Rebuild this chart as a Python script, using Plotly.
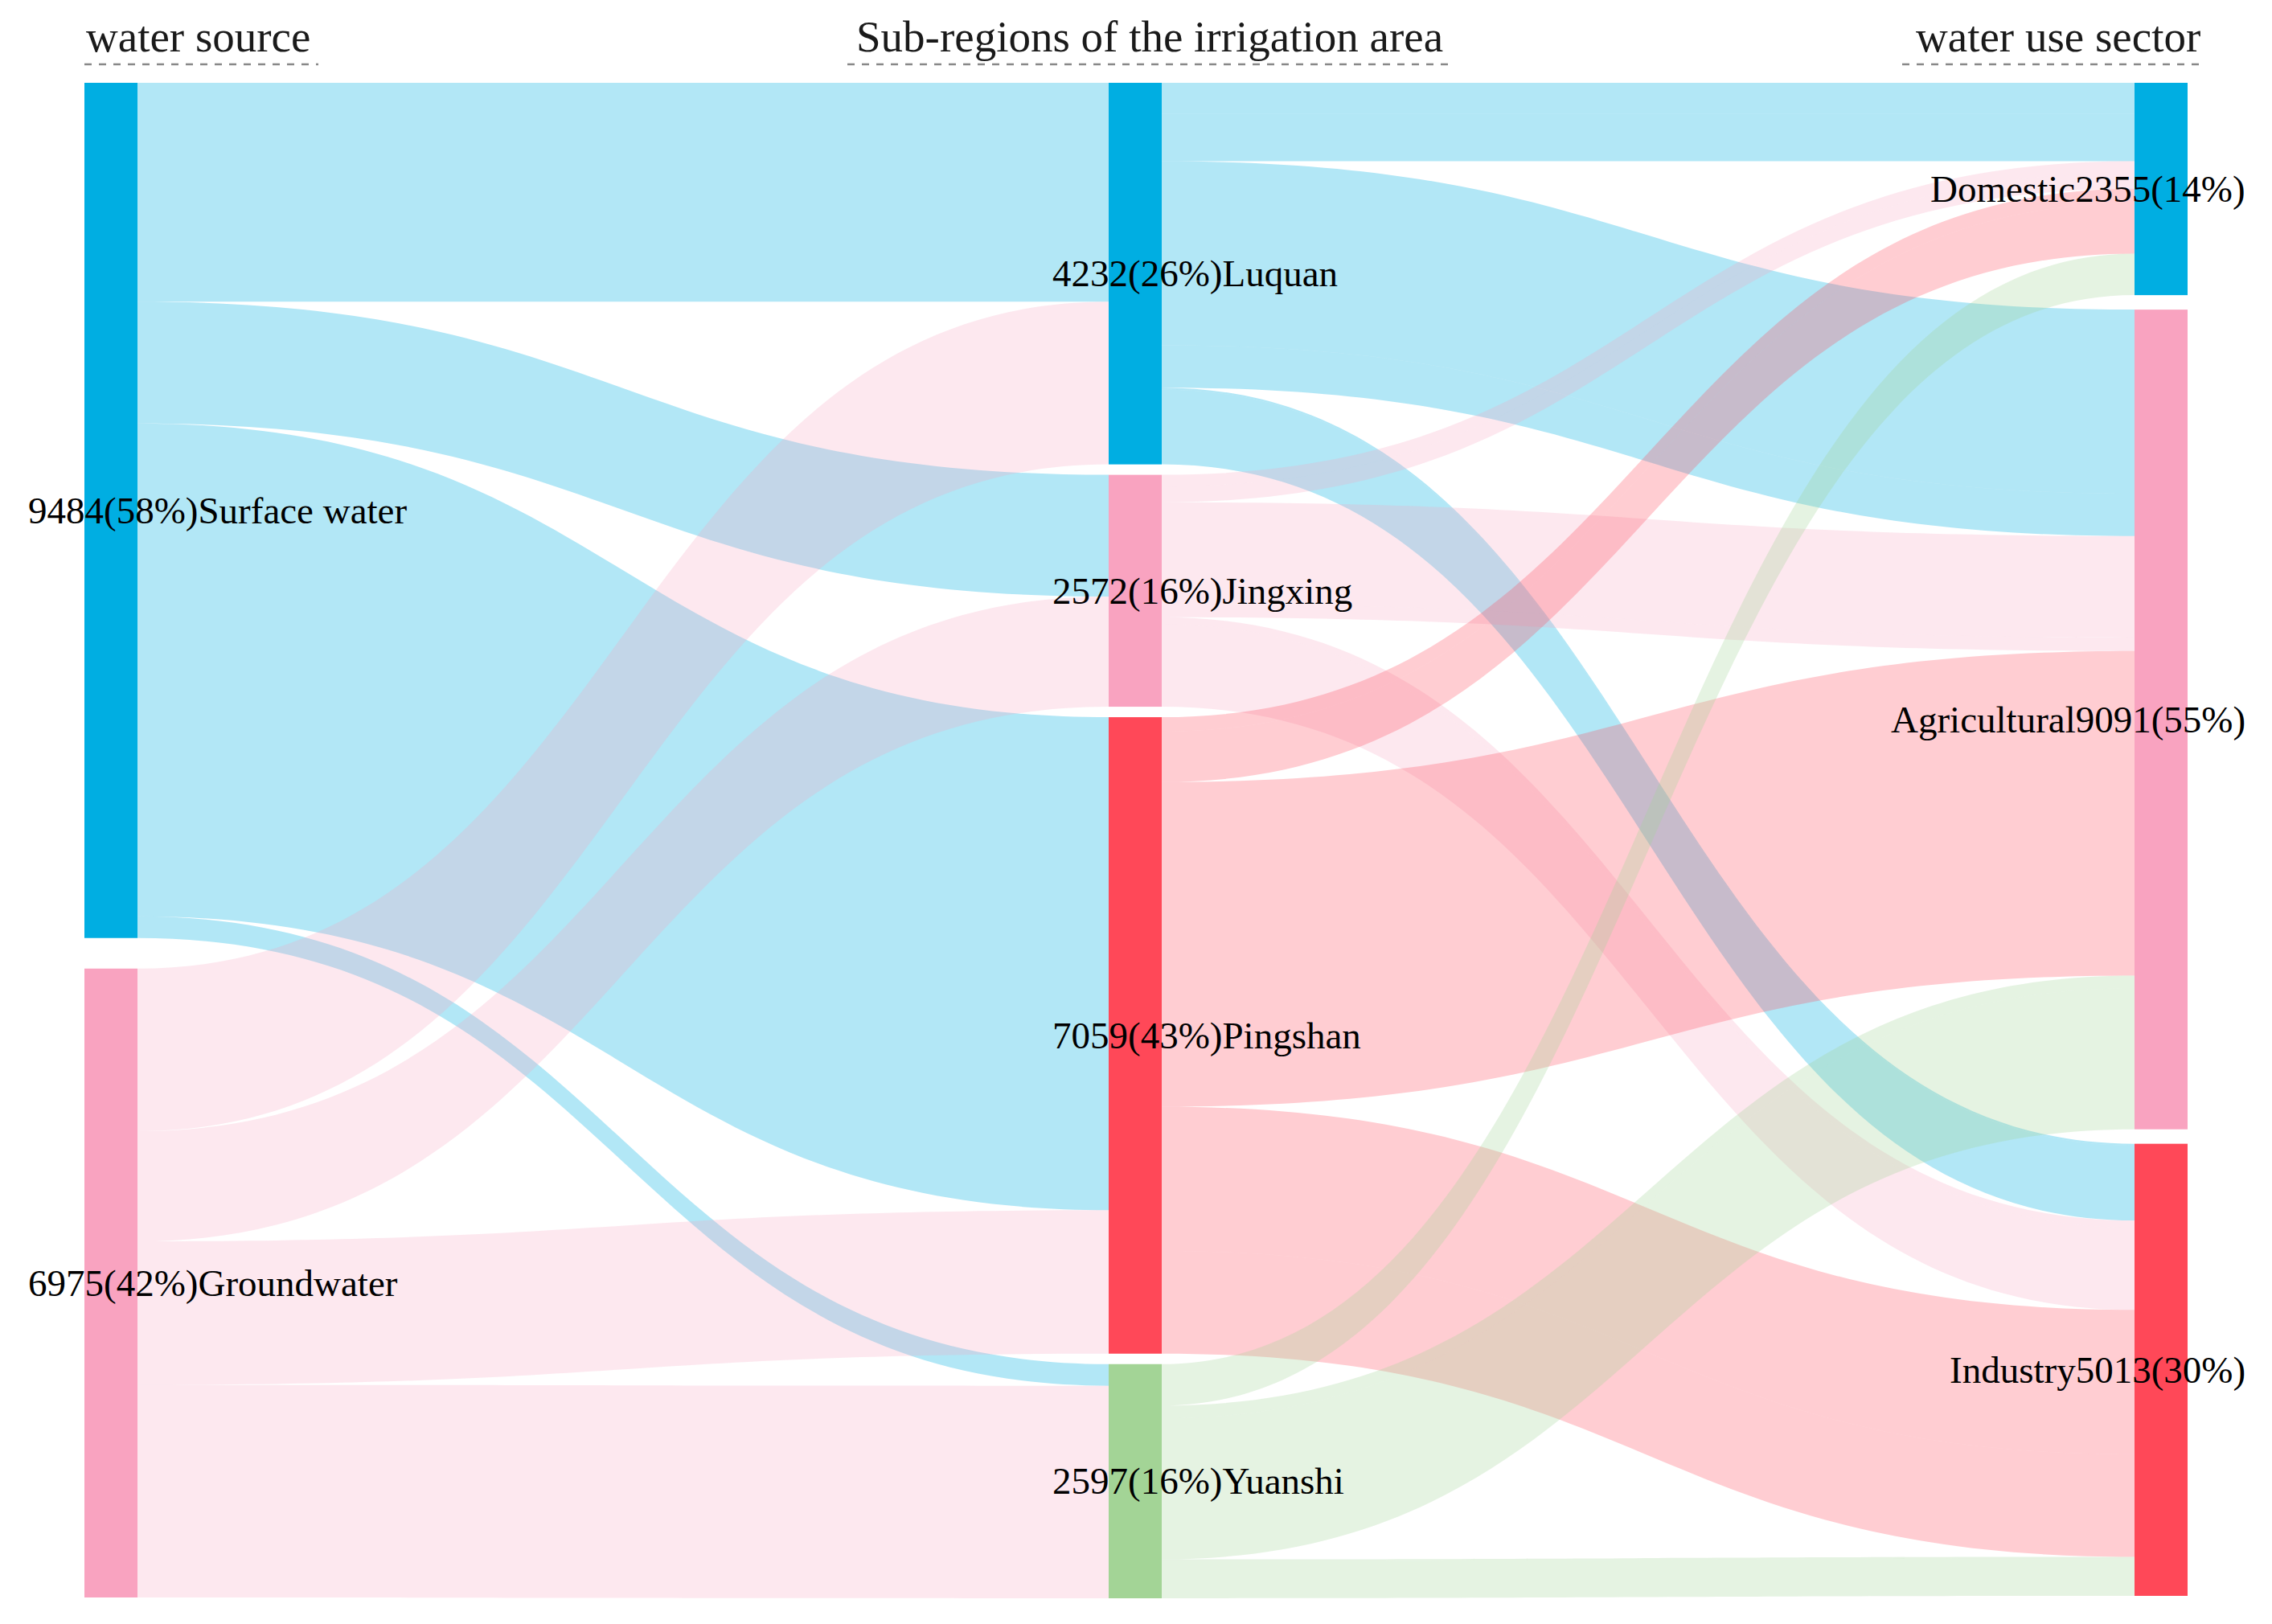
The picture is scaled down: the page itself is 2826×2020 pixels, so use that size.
import plotly.graph_objects as go

W, H = 2826, 2020

# ---------------- data ----------------
source_names = ["Surface water", "Groundwater"]
source_totals = [9484, 6975]
source_pct = [58, 42]

region_names = ["Luquan", "Jingxing", "Pingshan", "Yuanshi"]
region_totals = [4232, 2572, 7059, 2597]
region_pct = [26, 16, 43, 16]

sector_names = ["Domestic", "Agricultural", "Industry"]
sector_totals = [2355, 9091, 5013]
sector_pct = [14, 55, 30]

# water source -> sub-region
surface_to_region = [2428, 1350, 5467, 240]
ground_to_region = [1804, 1222, 1592, 2357]

# sub-region -> water use sector (bands)
rs_from = ["Luquan", "Luquan", "Luquan", "Luquan", "Luquan", "Luquan",
           "Jingxing", "Jingxing", "Jingxing", "Jingxing", "Jingxing", "Jingxing",
           "Pingshan", "Pingshan", "Pingshan", "Pingshan", "Pingshan",
           "Yuanshi", "Yuanshi", "Yuanshi", "Yuanshi", "Yuanshi"]
rs_to = ["Domestic", "Agricultural", "Domestic", "Industry", "Agricultural", "Industry",
         "Agricultural", "Domestic", "Domestic", "Agricultural", "Industry", "Industry",
         "Domestic", "Agricultural", "Industry", "Domestic", "Industry",
         "Domestic", "Agricultural", "Industry", "Agricultural", "Industry"]
rs_val = [340, 2041, 530, 20, 470, 831,
          1125, 130, 175, 150, 80, 912,
          160, 3600, 1600, 560, 1139,
          460, 140, 20, 1565, 412]

column_titles = ["water source", "Sub-regions of the irrigation area", "water use sector"]

# ---------------- styles ----------------
BLUE = (0, 174, 226)
PINK = (249, 163, 192)
RED = (255, 72, 88)
GREEN = (163, 212, 150)
source_colors = [BLUE, PINK]
region_colors = [BLUE, PINK, RED, GREEN]
sector_colors = [BLUE, PINK, RED]
alpha_of = {BLUE: 0.30, PINK: 0.25, RED: 0.27, GREEN: 0.28}

FONT = "Liberation Serif"

top_px, bottom_px = 103, 1988
Hd = bottom_px - top_px
pad = 13
col_gap = [38, 13, 18]
col_x_px = [138, 1412, 2688]
thick = 66

# ---------------- build graph ----------------
names = source_names + region_names + sector_names
idx = {n: i for i, n in enumerate(names)}
colors = source_colors + region_colors + sector_colors

src, tgt, val, lcol = [], [], [], []
for si, row in enumerate([surface_to_region, ground_to_region]):
    for ri, v in enumerate(row):
        src.append(idx[source_names[si]])
        tgt.append(idx[region_names[ri]])
        val.append(v)
for f, t, v in zip(rs_from, rs_to, rs_val):
    src.append(idx[f])
    tgt.append(idx[t])
    val.append(v)
for s in src:
    c = colors[s]
    lcol.append(f"rgba({c[0]},{c[1]},{c[2]},{alpha_of[c]})")

# node values as the sankey computes them
ins = [0] * len(names)
outs = [0] * len(names)
for s, t, v in zip(src, tgt, val):
    outs[s] += v
    ins[t] += v
nval = [max(a, b) for a, b in zip(ins, outs)]

columns = [list(range(0, 2)), list(range(2, 6)), list(range(6, 9))]
ky = min((Hd - (len(c) - 1) * pad) / sum(nval[i] for i in c) for c in columns)

node_x = [0] * len(names)
node_y = [0] * len(names)
center_px = [0] * len(names)
for ci, col in enumerate(columns):
    acc = 0.0
    for k, i in enumerate(col):
        h = nval[i] * ky
        c = acc + h / 2
        center_px[i] = c
        node_x[i] = col_x_px[ci] / W
        node_y[i] = c / Hd
        acc += h + col_gap[ci]

fig = go.Figure(go.Sankey(
    arrangement="fixed",
    domain=dict(x=[0, 1], y=[(H - bottom_px) / H, (H - top_px) / H]),
    node=dict(
        label=["" for _ in names],
        customdata=names,
        hovertemplate="%{customdata}: %{value}<extra></extra>",
        color=[f"rgb({c[0]},{c[1]},{c[2]})" for c in colors],
        line=dict(width=0),
        thickness=thick,
        pad=pad,
        x=node_x,
        y=node_y,
    ),
    link=dict(source=src, target=tgt, value=val, color=lcol, line=dict(width=0)),
))

# node labels
labels = ([f"{v}({p}%){n}" for n, v, p in zip(source_names, source_totals, source_pct)]
          + [f"{v}({p}%){n}" for n, v, p in zip(region_names, region_totals, region_pct)]
          + [f"{n}{v}({p}%)" for n, v, p in zip(sector_names, sector_totals, sector_pct)])
annotations = []
for ci, col in enumerate(columns):
    for i in col:
        if ci < 2:
            xp = (col_x_px[ci] - thick / 2 - 72) / W
            xa = "left"
        else:
            xp = (col_x_px[ci] + thick / 2 + 74) / W
            xa = "right"
        annotations.append(dict(
            x=xp, y=1 - (top_px + center_px[i]) / H, xref="paper", yref="paper",
            text=labels[i], showarrow=False, xanchor=xa, yanchor="middle",
            font=dict(family=FONT, size=47, color="#000000")))

# column titles with dashed underline
title_y = 1 - 45 / H
title_specs = [((col_x_px[0] - thick / 2) / W, "left"),
               (1430 / W, "center"),
               (2739 / W, "right")]
for t, (xp, xa) in zip(column_titles, title_specs):
    annotations.append(dict(x=xp, y=title_y, xref="paper", yref="paper", text=t,
                            showarrow=False, xanchor=xa, yanchor="middle",
                            font=dict(family=FONT, size=55, color="#1a1a1a")))

dash_y = 1 - 80 / H
dash_spans = [(105, 396), (1054, 1802), (2366, 2739)]
shapes = [dict(type="line", xref="paper", yref="paper", x0=a / W, x1=b / W,
               y0=dash_y, y1=dash_y, line=dict(color="#888888", width=2.5, dash="dash"))
          for a, b in dash_spans]

fig.update_layout(
    width=W, height=H,
    margin=dict(l=0, r=0, t=0, b=0),
    paper_bgcolor="white", plot_bgcolor="white",
    annotations=annotations, shapes=shapes,
    font=dict(family=FONT),
)

fig.write_html("out.html", config={"displayModeBar": False},
               post_script="document.body.style.margin='0';")
